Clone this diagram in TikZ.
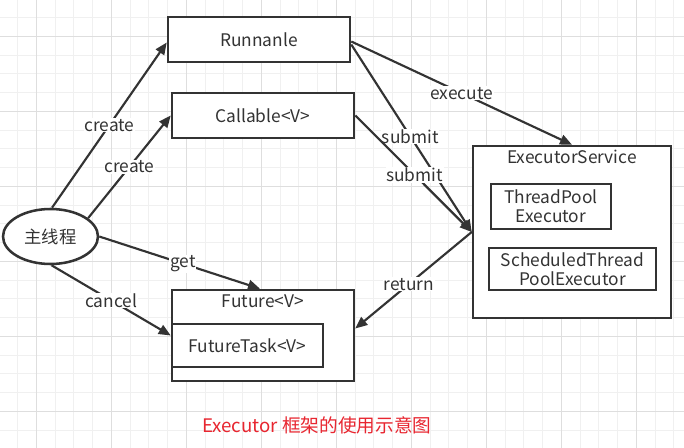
\documentclass[tikz,border=0pt]{standalone}
\usepackage{fontspec}
\setmainfont{Noto Sans CJK SC}
\usetikzlibrary{arrows.meta,calc,shapes.geometric}
\definecolor{ink}{HTML}{333333}
\definecolor{capred}{RGB}{232,38,48}
\definecolor{gridminor}{HTML}{F0F0F0}
\definecolor{gridmajor}{HTML}{DEDEDE}
\begin{document}
\begin{tikzpicture}[x=0.75pt,y=-0.75pt,
  txtfont/.style={font=\fontsize{13pt}{14.5pt}\selectfont},
  box/.style={draw=ink,line width=1.9pt,fill=white,text=ink,inner sep=0pt,align=center,txtfont},
  boxlabel/.style={text=ink,inner sep=0pt,txtfont},
  conn/.style={draw=ink,line width=1.6pt,-{Triangle[length=9pt,width=7.5pt]}},
  lbl/.style={fill=white,text=ink,inner sep=0.5pt,txtfont}
]
\useasboundingbox (0,0) rectangle (684,448);
\fill[white] (0,0) rectangle (684,448);
\foreach \i in {0,...,35} \draw[gridminor,line width=0.75pt] ({17.7+18.75*\i},0) -- ({17.7+18.75*\i},448);
\foreach \i in {0,...,22} \draw[gridminor,line width=0.75pt] (0,{17.7+18.75*\i}) -- (684,{17.7+18.75*\i});
\foreach \i in {0,...,8} \draw[gridmajor,line width=0.75pt] ({36.45+75*\i},0) -- ({36.45+75*\i},448);
\foreach \i in {0,...,5} \draw[gridmajor,line width=0.75pt] (0,{36.45+75*\i}) -- (684,{36.45+75*\i});

% nodes
\node[box,minimum width=136.5pt,minimum height=33.75pt] (run) at (259,39.5) {Runnanle};
\node[box,minimum width=136.5pt,minimum height=33.75pt] (call) at (263,115.5) {Callable<V>};
\node[box,ellipse,minimum width=71.25pt,minimum height=41.25pt] (main) at (50.5,236.5) {主线程};
\node[box,minimum width=136.5pt,minimum height=68.25pt] (fut) at (263,335.5) {};
\node[boxlabel] (futl) at (263,301.5) {Future<V>};
\node[box,minimum width=113.25pt,minimum height=32.25pt] (ft) at (247.5,345.5) {FutureTask<V>};
\node[box,minimum width=148.5pt,minimum height=129pt] (es) at (572,232) {};
\node[boxlabel] (esl) at (572,157) {ExecutorService};
\node[box,minimum width=90pt,minimum height=33.75pt] (tp) at (551,206.5) {ThreadPool\\Executor};
\node[box,minimum width=125.25pt,minimum height=31.5pt] (st) at (572.5,269) {ScheduledThread\\PoolExecutor};
\node[text=capred,inner sep=0pt,font=\fontsize{14pt}{16pt}\selectfont] (cap) at (316.7,425) {Executor 框架的使用示意图};

% connectors
\draw[conn] (main.87) -- ($(run.west)+(0,3)$) node[lbl,pos=0.5] {create};
\draw[conn] (main.26) -- (call.west) node[lbl,pos=0.5] {create};
\draw[conn] ($(run.east)+(0,2)$) -- (es.north) node[lbl,pos=0.5] {execute};
\draw[conn] ($(run.east)+(0,5)$) -- (es.west) node[lbl,pos=0.49] {submit};
\draw[conn] (call.east) -- (es.west) node[lbl,pos=0.51] {submit};
\draw[conn] (es.west) -- ($(fut.east)+(0,-7)$) node[lbl,pos=0.54] {return};
\draw[conn] (main.east) -- ($(fut.north)+(-3,0)$) node[lbl,pos=0.52] {get};
\draw[conn] (main.-88) -- (fut.west) node[lbl,pos=0.5] {cancel};
\end{tikzpicture}
\end{document}
